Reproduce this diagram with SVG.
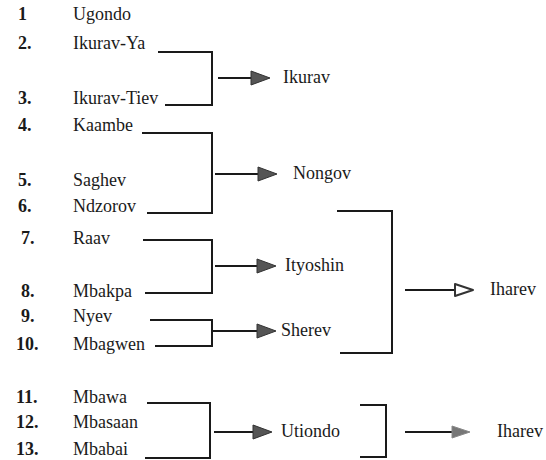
<svg xmlns="http://www.w3.org/2000/svg" width="546" height="460" viewBox="0 0 546 460">
<defs>
<style>
.t{font-size:18px;fill:#1a1a1a}
.num{font-weight:bold}
.br{fill:none;stroke:#1a1a1a;stroke-width:2}
.ar{fill:none;stroke:#1a1a1a;stroke-width:2}
.hd{fill:#555;stroke:#333;stroke-width:1}
</style>
</defs>
<rect width="546" height="460" fill="#fff"/>
<g id="items" font-family="Liberation Serif" class="t">
<g id="n1"><text class="num" x="18" y="20">1</text><text x="73" y="20">Ugondo</text></g>
<g id="n2"><text class="num" x="18" y="49">2.</text><text x="73" y="49">Ikurav-Ya</text></g>
<g id="n3"><text class="num" x="18" y="104">3.</text><text x="73" y="104">Ikurav-Tiev</text></g>
<g id="n4"><text class="num" x="18" y="131">4.</text><text x="73" y="131">Kaambe</text></g>
<g id="n5"><text class="num" x="18" y="186">5.</text><text x="73" y="186">Saghev</text></g>
<g id="n6"><text class="num" x="18" y="212">6.</text><text x="73" y="212">Ndzorov</text></g>
<g id="n7"><text class="num" x="21" y="244">7.</text><text x="73" y="244">Raav</text></g>
<g id="n8"><text class="num" x="21" y="297">8.</text><text x="73" y="297">Mbakpa</text></g>
<g id="n9"><text class="num" x="21" y="322">9.</text><text x="73" y="322">Nyev</text></g>
<g id="n10"><text class="num" x="16" y="350">10.</text><text x="73" y="350">Mbagwen</text></g>
<g id="n11"><text class="num" x="16" y="403">11.</text><text x="73" y="403">Mbawa</text></g>
<g id="n12"><text class="num" x="16" y="428">12.</text><text x="73" y="428">Mbasaan</text></g>
<g id="n13"><text class="num" x="16" y="455">13.</text><text x="73" y="455">Mbabai</text></g>
</g>
<g id="groups" font-family="Liberation Serif" class="t">
<g id="ikurav"><text x="283" y="83">Ikurav</text></g>
<g id="nongov"><text x="293" y="179">Nongov</text></g>
<g id="ityoshin"><text x="285" y="271">Ityoshin</text></g>
<g id="sherev"><text x="281" y="336">Sherev</text></g>
<g id="utiondo"><text x="281" y="437">Utiondo</text></g>
<g id="iharev1"><text x="490" y="295">Iharev</text></g>
<g id="iharev2"><text x="497" y="437">Iharev</text></g>
</g>
<g id="connectors">
<path class="br" d="M158 52H212V105H165"/>
<path class="br" d="M142 133H212V213H147"/>
<path class="br" d="M143 240H212V293H145"/>
<path class="br" d="M150 320H212V346H155"/>
<path class="br" d="M147 403H210V458H145"/>
<path class="br" d="M337 211H392V353H340"/>
<path class="br" d="M360 405H386V457H360"/>
<path class="ar" d="M218 78H252"/><path class="hd" d="M251 71L270 78L251 85Z"/>
<path class="ar" d="M215 174H259"/><path class="hd" d="M258 167L277 174L258 181Z"/>
<path class="ar" d="M215 266H258"/><path class="hd" d="M257 259L276 266L257 273Z"/>
<path class="ar" d="M213 331H258"/><path class="hd" d="M257 324L276 331L257 338Z"/>
<path class="ar" d="M214 432H254"/><path class="hd" d="M253 425L272 432L253 439Z"/>
<path class="ar" d="M405 290H456"/><path d="M455 284L473 290L455 296Z" fill="#fff" stroke="#333" stroke-width="2" stroke-linejoin="round"/>
<path class="ar" d="M405 432H452" stroke="#444"/><path d="M452 426L470 432L452 438Z" fill="#777" stroke="#888" stroke-width="1"/>
</g>
</svg>
